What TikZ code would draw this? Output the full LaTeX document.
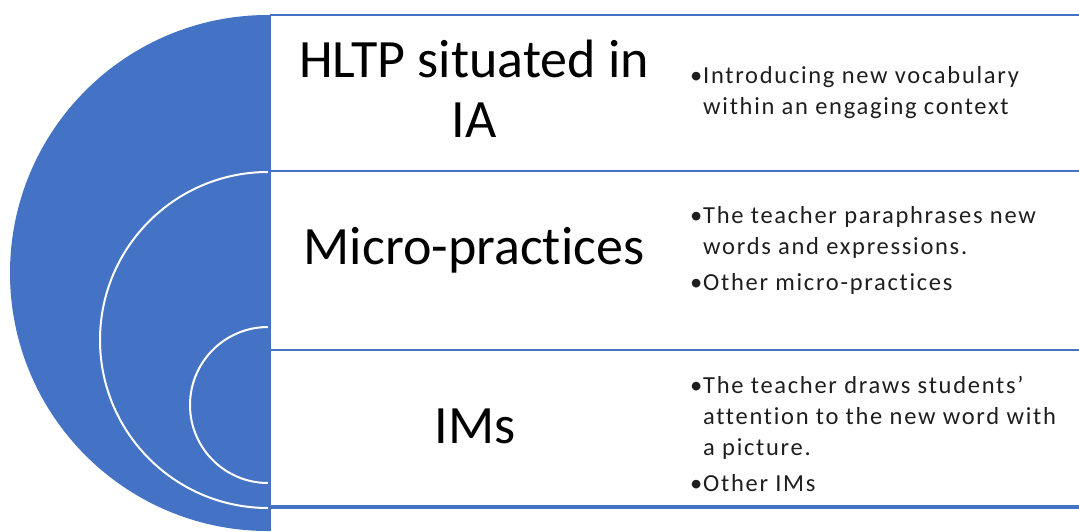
\documentclass[tikz,border=0pt]{standalone}
\usepackage{fontspec}
\setmainfont{Carlito}[Ligatures=NoCommon]
\newfontfamily\bodyfont{Carlito}[LetterSpace=7,Ligatures=NoCommon]
\definecolor{ringblue}{HTML}{4472C4}
\definecolor{bodytext}{HTML}{1E1E1E}
\tikzset{
  rule/.style={draw=ringblue, line width=2.6pt},
  ring/.style={fill=ringblue, draw=white, line width=2pt},
  title/.style={inner sep=0pt, anchor=base, font=\fontsize{54}{60}\selectfont, text=black},
  bullets/.style={inner sep=0pt, anchor=base west, text=bodytext},
}
\newcommand{\bul}[1]{\par\noindent\hangindent=13pt\hangafter=1\makebox[13pt][l]{•}#1}
\newcommand{\bulletbox}[1]{\parbox[t]{385pt}{\bodyfont\fontsize{24.5}{31}\selectfont\setlength{\parskip}{5pt}#1}}
\begin{document}
\begin{tikzpicture}[x=1pt,y=-1pt]
  \useasboundingbox (0,0) rectangle (1079,531);

  % nested half discs on the left of the table
  \begin{scope}
    \clip (0,0) rectangle (268,531);
    \fill[ringblue] (268,273) circle (258pt);
    \filldraw[ring] (268,340) circle (168pt);
    \filldraw[ring] (268,405) circle (78pt);
  \end{scope}

  % table rules
  \coordinate (tl) at (269.5,15);
  \coordinate (bl) at (269.5,531);
  \coordinate (r0) at (1079,15);
  \coordinate (l1) at (269.5,171);
  \coordinate (r1) at (1079,171);
  \coordinate (l2) at (269.5,350);
  \coordinate (r2) at (1079,350);
  \coordinate (l3) at (269.5,507);
  \coordinate (r3) at (1079,507);
  \draw[rule] (tl) -- (r0);
  \draw[rule] (l1) -- (r1);
  \draw[rule] (l2) -- (r2);
  \draw[rule, line width=3.6pt] (l3) -- (r3);
  \draw[rule, line width=3pt] (tl) -- (bl);

  % level titles
  \node[title] (hltp) at (474,77) {\parbox[t]{400pt}{\centering HLTP situated in\\IA}};
  \node[title] (micro) at (474,264) {Micro-practices};
  \node[title] (ims) at (475,443) {IMs};

  % examples for each level
  \node[bullets] (ex1) at (690,83) {\bulletbox{\bul{Introducing new vocabulary\\within an engaging context}}};
  \node[bullets] (ex2) at (690,223) {\bulletbox{\bul{The teacher paraphrases new\\words and expressions.}\bul{Other micro-practices}}};
  \node[bullets] (ex3) at (690,393) {\bulletbox{\bul{The teacher draws students’\\attention to the new word with\\a picture.}\bul{Other IMs}}};
\end{tikzpicture}
\end{document}
